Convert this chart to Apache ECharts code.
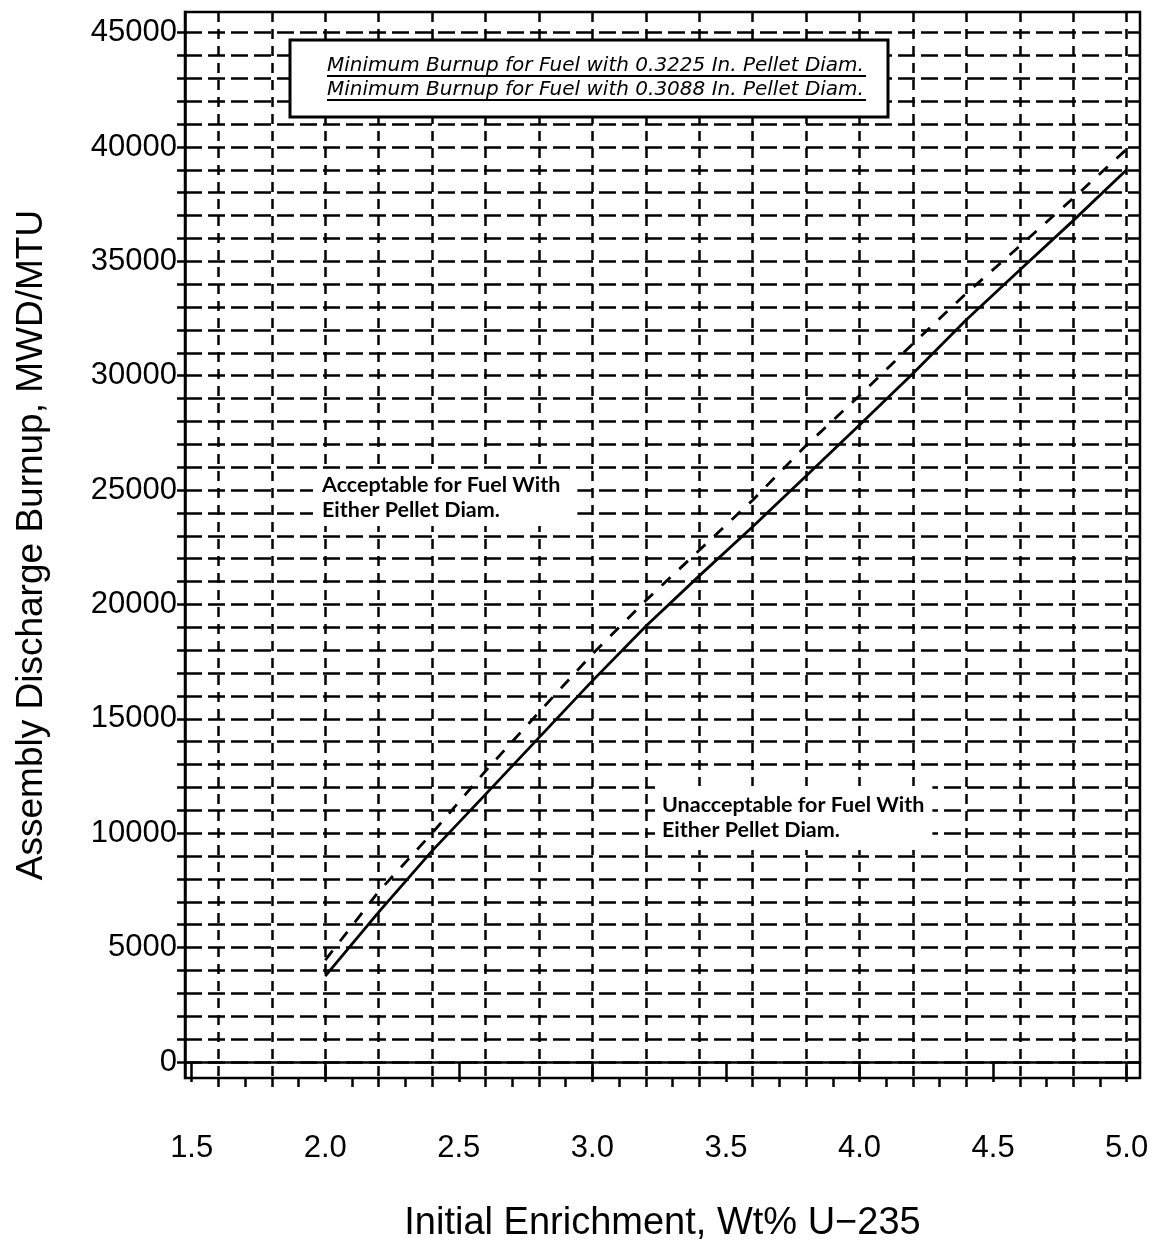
<!DOCTYPE html>
<html>
<head>
<meta charset="utf-8">
<script src="https://cdn.jsdelivr.net/npm/echarts@6/dist/echarts.min.js"></script>
<style>
html,body{margin:0;padding:0;background:#fff;}
#chart{width:1157px;height:1251px;}
</style>
</head>
<body>
<div id="chart"></div>
<script>
// ---- data ----
const enrichment = [2.0, 2.2, 2.4, 2.6, 2.8, 3.0, 3.2, 3.4, 3.6, 3.8, 4.0, 4.2, 4.4, 4.6, 4.8, 5.0];
const burnup3225 = [3750, 6550, 9230, 11700, 14180, 16660, 19050, 21250, 23400, 25620, 27850, 30100, 32450, 34620, 36780, 39000];
const burnup3088 = [4450, 7450, 10000, 12720, 15290, 17830, 20170, 22370, 24560, 26950, 29130, 31400, 33600, 35670, 37760, 39900];

const seriesNames = ['Minimum Burnup for Fuel with 0.3225 In. Pellet Diam.', 'Minimum Burnup for Fuel with 0.3088 In. Pellet Diam.'];

const xTickLabels = [1.5, 2.0, 2.5, 3.0, 3.5, 4.0, 4.5, 5.0];
const xMinorTicks = [1.6, 1.7, 1.8, 1.9, 2.1, 2.2, 2.3, 2.4, 2.6, 2.7, 2.8, 2.9, 3.1, 3.2, 3.3, 3.4, 3.6, 3.7, 3.8, 3.9, 4.1, 4.2, 4.3, 4.4, 4.6, 4.7, 4.8, 4.9];
const xGridLines = [1.6, 1.8, 2.0, 2.2, 2.4, 2.6, 2.8, 3.0, 3.2, 3.4, 3.6, 3.8, 4.0, 4.2, 4.4, 4.6, 4.8, 5.0];
const yTickLabels = [0, 5000, 10000, 15000, 20000, 25000, 30000, 35000, 40000, 45000];
const yGridLines = [0, 1000, 2000, 3000, 4000, 5000, 6000, 7000, 8000, 9000, 10000, 11000, 12000, 13000, 14000, 15000, 16000, 17000, 18000, 19000, 20000, 21000, 22000, 23000, 24000, 25000, 26000, 27000, 28000, 29000, 30000, 31000, 32000, 33000, 34000, 35000, 36000, 37000, 38000, 39000, 40000, 41000, 42000, 43000, 44000, 45000];

const noteAccept = 'Acceptable for Fuel With\nEither Pellet Diam.';
const noteUnaccept = 'Unacceptable for Fuel With\nEither Pellet Diam.';

// ---- chart ----
const SANS = "'Liberation Sans', Arial, sans-serif";
const X_MIN = 1.475, X_MAX = 5.05, Y_MIN = -700, Y_MAX = 45900;

const chart = echarts.init(document.getElementById('chart'), null, {renderer: 'canvas'});

function pairs(xs, ys) { return xs.map((x, i) => [x, ys[i]]); }

const option = {
  backgroundColor: '#ffffff',
  animation: false,
  grid: {left: 185, right: 17, top: 12, bottom: 173, show: true, borderColor: '#000', borderWidth: 2.5, backgroundColor: 'transparent'},
  xAxis: [
    {
      type: 'value', position: 'bottom', min: X_MIN, max: X_MAX,
      name: 'Initial Enrichment, Wt% U\u2212235', nameLocation: 'middle', nameGap: 127,
      nameTextStyle: {fontFamily: SANS, fontSize: 38, color: '#000'},
      axisLine: {show: true, lineStyle: {color: '#000', width: 2.5}},
      axisTick: {show: true, inside: false, length: 20, customValues: xTickLabels, lineStyle: {color: '#000', width: 2.5}},
      axisLabel: {show: true, customValues: xTickLabels, margin: 55, fontFamily: SANS, fontSize: 31, color: '#000', formatter: v => Number(v).toFixed(1)},
      splitLine: {show: false}
    },
    {
      type: 'value', position: 'bottom', min: X_MIN, max: X_MAX,
      axisLine: {show: false},
      axisTick: {show: true, inside: false, length: 9, customValues: xMinorTicks, lineStyle: {color: '#000', width: 2.5}},
      axisLabel: {show: false},
      splitLine: {show: false}
    },
    {
      type: 'value', position: 'bottom', min: X_MIN, max: X_MAX,
      axisLine: {show: false},
      axisTick: {show: false, customValues: xGridLines},
      axisLabel: {show: false},
      splitLine: {show: true, lineStyle: {color: '#000', width: 2.5, type: [10, 7]}}
    }
  ],
  yAxis: [
    {
      type: 'value', position: 'left', min: Y_MIN, max: Y_MAX,
      name: 'Assembly Discharge Burnup, MWD/MTU', nameLocation: 'middle', nameGap: 135, nameRotate: 90,
      nameTextStyle: {fontFamily: SANS, fontSize: 37, color: '#000'},
      axisLine: {show: true, lineStyle: {color: '#000', width: 2.5}},
      axisTick: {show: true, inside: false, length: 8, customValues: yGridLines, lineStyle: {color: '#000', width: 2.5}},
      axisLabel: {show: true, customValues: yTickLabels, margin: 8, fontFamily: SANS, fontSize: 31, color: '#000', formatter: v => String(v)},
      splitLine: {show: true, lineStyle: {color: '#000', width: 2.5, type: [17, 6]}}
    }
  ],
  series: [
    {
      name: seriesNames[0], type: 'line', xAxisIndex: 0, yAxisIndex: 0,
      data: pairs(enrichment, burnup3225), symbol: 'none', z: 10,
      lineStyle: {color: '#000', width: 2.8, type: 'solid'}
    },
    {
      name: seriesNames[1], type: 'line', xAxisIndex: 0, yAxisIndex: 0,
      data: pairs(enrichment, burnup3088), symbol: 'none', z: 10,
      lineStyle: {color: '#000', width: 2.8, type: [12, 12]}
    }
  ],
  graphic: [
    {type: 'rect', z: 50, shape: {x: 290, y: 40, width: 598, height: 77},
     style: {fill: '#fff', stroke: '#000', lineWidth: 3}},
    {type: 'text', z: 51, x: 327, y: 66,
     style: {text: seriesNames[0], font: "italic 20px 'DejaVu Sans'", fill: '#000', verticalAlign: 'middle'}},
    {type: 'line', z: 51, shape: {x1: 327, y1: 76, x2: 866, y2: 76}, style: {stroke: '#000', lineWidth: 2}},
    {type: 'text', z: 51, x: 327, y: 90,
     style: {text: seriesNames[1], font: "italic 20px 'DejaVu Sans'", fill: '#000', verticalAlign: 'middle'}},
    {type: 'line', z: 51, shape: {x1: 327, y1: 100, x2: 866, y2: 100}, style: {stroke: '#000', lineWidth: 2}},
    {type: 'text', z: 51, x: 313, y: 470,
     style: {text: noteAccept, font: "bold 21.5px Lato", fill: '#000', lineHeight: 25,
             backgroundColor: '#fff', padding: [3, 17, 3, 9]}},
    {type: 'text', z: 51, x: 655, y: 786,
     style: {text: noteUnaccept, font: "bold 21.5px Lato", fill: '#000', lineHeight: 25,
             backgroundColor: '#fff', padding: [7, 8, 7, 7]}}
  ]
};
chart.setOption(option);
</script>
</body>
</html>
